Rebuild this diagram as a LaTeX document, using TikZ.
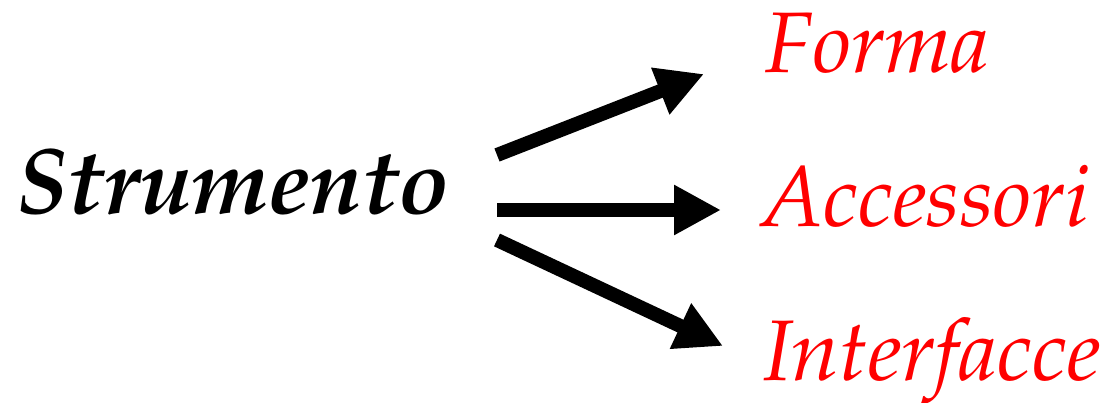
\documentclass[tikz,border=0pt]{standalone}
\usepackage[T1]{fontenc}
\usepackage{mathpazo}
\usetikzlibrary{arrows.meta}
\tikzset{
  src/.style={anchor=base west,inner sep=0pt,font=\fontsize{93}{100}\selectfont\bfseries\itshape},
  dst/.style={anchor=base west,inner sep=0pt,text=red,font=\fontsize{86}{94}\selectfont\itshape},
  bigarrow/.style={line width=14pt,-{Triangle[length=47pt,width=47pt]}}
}
\begin{document}
\begin{tikzpicture}[x=1pt,y=-1pt]
\useasboundingbox (0,0) rectangle (1107,403);
\node[src] (s) at (16,214) {Strumento};
\node[dst] (f) at (765,73) {Forma};
\node[dst] (a) at (761,227) {Accessori};
\node[dst] (i) at (763,380) {Interfacce};
\coordinate (t1) at (497,155);
\coordinate (h1) at (704,74);
\coordinate (t2) at (497,210);
\coordinate (h2) at (721,210);
\coordinate (t3) at (497,240);
\coordinate (h3) at (723,346);
\draw[bigarrow] (t1) -- (h1);
\draw[bigarrow] (t2) -- (h2);
\draw[bigarrow] (t3) -- (h3);
\end{tikzpicture}
\end{document}
